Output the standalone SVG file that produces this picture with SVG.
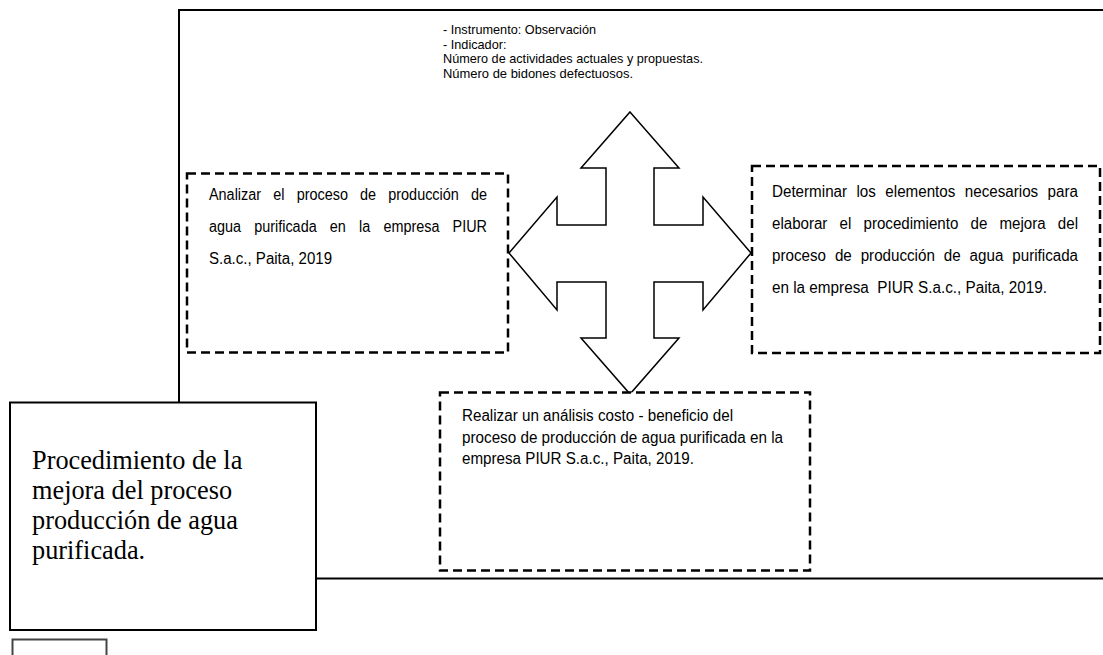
<svg xmlns="http://www.w3.org/2000/svg" width="1103" height="655" viewBox="0 0 1103 655">
  <style>
    .frame { fill: none; stroke: #000; stroke-width: 2; }
    .dash { fill: #fff; stroke: #000; stroke-width: 2.5; stroke-dasharray: 9 5; }
    .solid { fill: #fff; stroke: #000; stroke-width: 2; }
    .sans { font-family: "Liberation Sans", Arial, sans-serif; font-size: 16px; fill: #000; }
    .small { font-family: "Liberation Sans", Arial, sans-serif; font-size: 13.5px; fill: #000; }
    .serif { font-family: "Liberation Serif", "Times New Roman", serif; font-size: 26.3px; fill: #000; }
  </style>
  <rect width="1103" height="655" fill="#fff"/>

  <!-- outer frame lines -->
  <g id="connectors">
    <path class="frame" d="M179,403 V10 H1103"/>
    <path class="frame" d="M316,578.5 H1103"/>
  </g>

  <!-- indicator text above the arrow -->
  <g id="indicador">
    <text class="small" x="443" y="34" textLength="153" lengthAdjust="spacingAndGlyphs">- Instrumento: Observación</text>
    <text class="small" x="443" y="48.5" textLength="63.5" lengthAdjust="spacingAndGlyphs">- Indicador:</text>
    <text class="small" x="443" y="63" textLength="260" lengthAdjust="spacingAndGlyphs">Número de actividades actuales y propuestas.</text>
    <text class="small" x="443" y="77.5" textLength="190" lengthAdjust="spacingAndGlyphs">Número de bidones defectuosos.</text>
  </g>

  <!-- four-way arrow -->
  <g id="flecha">
    <polygon fill="#fff" stroke="#000" stroke-width="1.5" stroke-linejoin="miter"
      points="630,112 679,168 654,168 654,225 703,225 703,197 751,253 703,310 703,282 654,282 654,338 679,338 630,394 581,338 606,338 606,282 557,282 557,310 509,253 557,197 557,225 606,225 606,168 581,168"/>
  </g>

  <!-- left objective -->
  <g id="objetivo-analizar">
    <rect class="dash" x="187" y="173.5" width="321" height="179"/>
    <text class="sans" x="209" y="200" word-spacing="9.1" textLength="278" lengthAdjust="spacingAndGlyphs">Analizar el proceso de producción de</text>
    <text class="sans" x="209" y="232" word-spacing="10.2" textLength="278" lengthAdjust="spacingAndGlyphs">agua purificada en la empresa PIUR</text>
    <text class="sans" x="209" y="264" textLength="123" lengthAdjust="spacingAndGlyphs">S.a.c., Paita, 2019</text>
  </g>

  <!-- right objective -->
  <g id="objetivo-determinar">
    <rect class="dash" x="752" y="166" width="348" height="187"/>
    <text class="sans" x="772" y="197" word-spacing="5.5" textLength="306" lengthAdjust="spacingAndGlyphs">Determinar los elementos necesarios para</text>
    <text class="sans" x="772" y="229" word-spacing="8.5" textLength="306" lengthAdjust="spacingAndGlyphs">elaborar el procedimiento de mejora del</text>
    <text class="sans" x="772" y="261" word-spacing="5" textLength="306" lengthAdjust="spacingAndGlyphs">proceso de producción de agua purificada</text>
    <text class="sans" x="772" y="293" textLength="275" lengthAdjust="spacingAndGlyphs">en la empresa&#160; PIUR S.a.c., Paita, 2019.</text>
  </g>

  <!-- bottom objective -->
  <g id="objetivo-realizar">
    <rect class="dash" x="440" y="392.5" width="370" height="178"/>
    <text class="sans" x="462" y="421" textLength="271" lengthAdjust="spacingAndGlyphs">Realizar un análisis costo - beneficio del</text>
    <text class="sans" x="462" y="442.5" textLength="321" lengthAdjust="spacingAndGlyphs">proceso de producción de agua purificada en la</text>
    <text class="sans" x="462" y="464" textLength="232" lengthAdjust="spacingAndGlyphs">empresa PIUR S.a.c., Paita, 2019.</text>
  </g>

  <!-- main title box -->
  <g id="procedimiento">
    <rect class="solid" x="10" y="402.5" width="306" height="227.5"/>
    <text class="serif" x="32" y="469">Procedimiento de la</text>
    <text class="serif" x="32" y="499">mejora del proceso</text>
    <text class="serif" x="32" y="529">producción de agua</text>
    <text class="serif" x="32" y="559">purificada.</text>
  </g>

  <!-- small box below -->
  <g id="caja-inferior">
    <rect x="12.5" y="639.5" width="94" height="40" fill="#fff" stroke="#444" stroke-width="2"/>
  </g>
</svg>
